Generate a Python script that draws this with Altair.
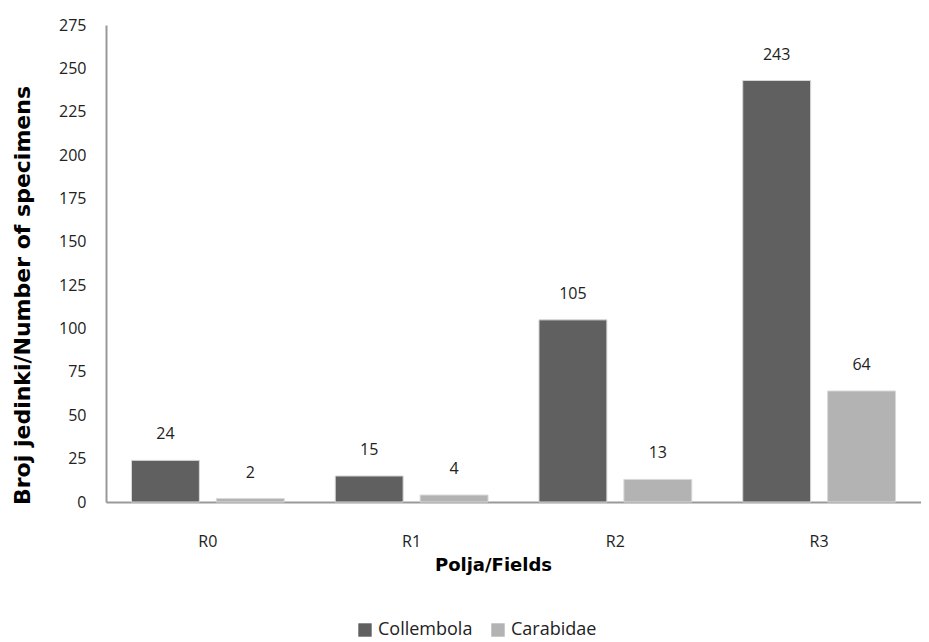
import altair as alt
import pandas as pd

fields = ["R0", "R1", "R2", "R3"]
collembola = [24, 15, 105, 243]
carabidae = [2, 4, 13, 64]
series = ["Collembola", "Carabidae"]
colors = ["#606060", "#b3b3b3"]
y_ticks = list(range(0, 276, 25))

rows = []
for f, c, k in zip(fields, collembola, carabidae):
    rows.append({"field": f, "group": series[0], "value": c})
    rows.append({"field": f, "group": series[1], "value": k})
df = pd.DataFrame(rows)

label_font = "Open Sans"
title_font = "DejaVu Sans"

x = alt.X("field:N", sort=fields,
          scale=alt.Scale(paddingInner=0.25, paddingOuter=0.125),
          axis=alt.Axis(title="Polja/Fields", labelAngle=0, ticks=False,
                        labelPadding=31, labelFont=label_font, labelFontSize=16,
                        labelColor="#222", titleFont=title_font,
                        titleFontSize=18, titleFontWeight="bold", titlePadding=7,
                        titleX=387,
                        domainColor="#999999", domainWidth=2, titleColor="#000"))
xo = alt.XOffset("group:N", sort=series,
                 scale=alt.Scale(paddingInner=0.2, paddingOuter=0))

base = alt.Chart(df)

bars = base.mark_bar(stroke="#d8d8d8", strokeWidth=1).encode(
    x=x,
    xOffset=xo,
    y=alt.Y("value:Q", scale=alt.Scale(domain=[0, 275], nice=False),
            axis=alt.Axis(title="Broj jedinki/Number of specimens", values=y_ticks,
                          grid=False, ticks=False, labelPadding=20,
                          labelFont=label_font, labelFontSize=16, labelColor="#222",
                          titleFont=title_font, titleFontSize=22,
                          titleFontWeight="bold", titlePadding=24, titleColor="#000",
                          titleY=270,
                          domainColor="#999999", domainWidth=2)),
    color=alt.Color("group:N", sort=series,
                    scale=alt.Scale(domain=series, range=colors),
                    legend=alt.Legend(title=None, orient="none", legendX=250,
                                      legendY=596, direction="horizontal",
                                      symbolType="square",
                                      symbolSize=180, symbolStrokeWidth=0,
                                      labelFont=label_font, labelFontSize=18,
                                      labelColor="#222", columnPadding=16)),
)

texts = base.mark_text(baseline="bottom", dy=-18, font=label_font, fontSize=16,
                       color="#222").encode(
    x=alt.X("field:N", sort=fields),
    xOffset=xo,
    y="value:Q",
    text="value:Q",
)

chart = alt.layer(bars, texts).properties(
    width=815, height=477,
    padding={"left": 3, "top": 9, "right": 0, "bottom": 30},
).configure_view(stroke=None)

chart.save("out.html", embed_options={"renderer": "svg", "actions": False})
